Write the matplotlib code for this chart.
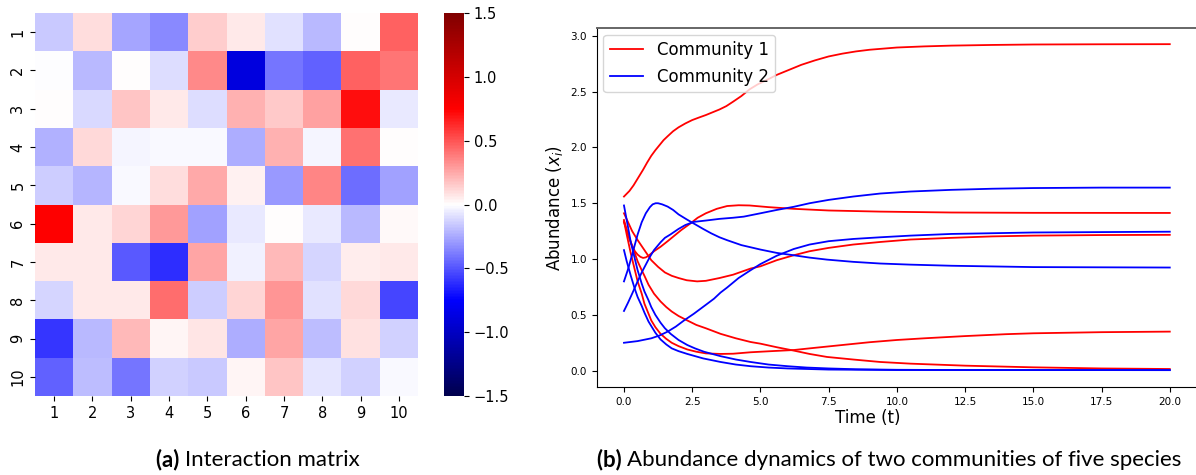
import numpy as np
import matplotlib
matplotlib.use('Agg')
import matplotlib.pyplot as plt

# interaction matrix, rows 1..10 (top to bottom), columns 1..10
A = np.array([
    [-0.16, 0.10, -0.26, -0.35, 0.15, 0.07, -0.09, -0.21, 0.01, 0.46],
    [-0.01, -0.20, 0.01, -0.10, 0.35, -0.88, -0.40, -0.46, 0.46, 0.40],
    [0.01, -0.11, 0.17, 0.06, -0.10, 0.23, 0.16, 0.28, 0.71, -0.07],
    [-0.23, 0.11, -0.035, -0.015, -0.015, -0.24, 0.23, -0.03, 0.42, 0.0],
    [-0.15, -0.22, -0.015, 0.10, 0.25, 0.04, -0.30, 0.36, -0.43, -0.28],
    [0.75, 0.06, 0.12, 0.30, -0.27, -0.07, 0.01, -0.06, -0.21, 0.02],
    [0.06, 0.06, -0.49, -0.61, 0.26, -0.04, 0.20, -0.12, 0.05, 0.06],
    [-0.12, 0.06, 0.07, 0.43, -0.15, 0.12, 0.31, -0.09, 0.11, -0.54],
    [-0.59, -0.21, 0.20, 0.03, 0.08, -0.24, 0.26, -0.19, 0.09, -0.14],
    [-0.46, -0.19, -0.40, -0.14, -0.16, 0.03, 0.17, -0.08, -0.14, -0.02],
])
species = [str(i) for i in range(1, 11)]
cbar_ticks = [-1.5, -1.0, -0.5, 0.0, 0.5, 1.0, 1.5]

# community 1 trajectories
t_r1 = [0, 0.2, 0.35, 0.5, 0.7, 0.85, 1.0, 1.15, 1.3, 1.45, 1.6, 1.8, 2.0, 2.25, 2.5, 2.75, 3.0, 3.25,
        3.5, 3.75, 4.0, 4.3, 4.6, 4.9, 5.2, 5.6, 6.0, 6.5, 7.0, 7.5, 8.0, 8.5, 9.0, 10, 11, 12, 13.5,
        15, 17.5, 20]
r1 = [1.56, 1.61, 1.66, 1.72, 1.80, 1.865, 1.925, 1.975, 2.02, 2.065, 2.10, 2.145, 2.18, 2.215, 2.245,
      2.268, 2.29, 2.315, 2.34, 2.37, 2.41, 2.46, 2.52, 2.565, 2.60, 2.65, 2.69, 2.74, 2.78, 2.815,
      2.84, 2.86, 2.875, 2.895, 2.905, 2.912, 2.918, 2.922, 2.924, 2.925]
t_r2 = [0, 0.1, 0.2, 0.3, 0.4, 0.5, 0.6, 0.7, 0.8, 0.9, 1.0, 1.1, 1.34, 1.6, 1.8, 2.1, 2.44, 2.7, 3.0,
        3.4, 3.78, 4.2, 4.6, 5.3, 6.22, 7.5, 9.39, 12, 15, 20]
r2 = [1.35, 1.26, 1.18, 1.12, 1.07, 1.04, 1.02, 1.01, 1.015, 1.03, 1.05, 1.07, 1.11, 1.16, 1.20, 1.26,
      1.32, 1.37, 1.41, 1.45, 1.475, 1.482, 1.48, 1.465, 1.45, 1.435, 1.425, 1.417, 1.414, 1.413]
t_r3 = [0, 0.15, 0.3, 0.5, 0.75, 1.0, 1.25, 1.5, 1.75, 2.0, 2.3, 2.68, 3.0, 3.5, 4.0, 4.64, 5.0, 5.6,
        6.22, 6.8, 7.5, 8.4, 9.39, 10.5, 12, 13.5, 15, 17.5, 20]
r3 = [1.41, 1.33, 1.25, 1.17, 1.08, 0.99, 0.93, 0.88, 0.85, 0.83, 0.81, 0.80, 0.805, 0.83, 0.86, 0.915,
      0.935, 0.99, 1.034, 1.07, 1.10, 1.13, 1.153, 1.175, 1.19, 1.203, 1.21, 1.215, 1.217]
t_r4 = [0, 0.1, 0.25, 0.4, 0.5, 0.65, 0.75, 0.9, 1.0, 1.15, 1.34, 1.55, 1.75, 2.0, 2.32, 2.65, 3.0,
        3.54, 4.0, 4.64, 5.4, 6.22, 7.0, 8.0, 9.0, 10, 11, 12.5, 14, 15, 17.5, 20]
r4 = [1.34, 1.22, 1.05, 0.90, 0.80, 0.69, 0.60, 0.51, 0.45, 0.39, 0.33, 0.285, 0.25, 0.22, 0.19, 0.17,
      0.155, 0.15, 0.152, 0.165, 0.175, 0.185, 0.205, 0.23, 0.255, 0.275, 0.29, 0.31, 0.327, 0.335,
      0.345, 0.35]
t_r5 = [0, 0.1, 0.25, 0.4, 0.5, 0.65, 0.75, 0.9, 1.1, 1.34, 1.55, 1.75, 2.0, 2.32, 2.65, 3.0, 3.54,
        4.1, 4.64, 5.0, 5.6, 6.22, 6.8, 7.44, 8.4, 9.39, 10.5, 12.5, 15, 17.5, 20]
r5 = [1.33, 1.26, 1.15, 1.05, 0.98, 0.90, 0.85, 0.77, 0.69, 0.62, 0.57, 0.53, 0.49, 0.45, 0.41, 0.38,
      0.33, 0.29, 0.257, 0.242, 0.21, 0.18, 0.15, 0.123, 0.10, 0.078, 0.063, 0.045, 0.03, 0.02, 0.015]

# community 2 trajectories
t_b1 = [0, 0.15, 0.3, 0.5, 0.65, 0.8, 0.95, 1.1, 1.34, 1.5, 1.7, 2.0, 2.25, 2.56, 3.0, 3.5, 4.0, 4.39,
        5.0, 5.6, 6.22, 6.8, 7.5, 8.4, 9.39, 10.5, 12, 13.5, 15, 17.5, 20]
b1 = [0.535, 0.61, 0.69, 0.80, 0.88, 0.95, 1.02, 1.08, 1.15, 1.19, 1.22, 1.27, 1.305, 1.333, 1.345,
      1.36, 1.37, 1.38, 1.41, 1.44, 1.468, 1.50, 1.53, 1.56, 1.587, 1.605, 1.62, 1.63, 1.636, 1.64, 1.64]
t_b2 = [0, 0.15, 0.3, 0.5, 0.65, 0.8, 0.95, 1.05, 1.16, 1.25, 1.4, 1.6, 1.8, 2.0, 2.3, 2.56, 2.9, 3.2,
        3.5, 3.78, 4.3, 5.0, 5.6, 6.22, 6.8, 7.44, 8.4, 9.39, 10.5, 12, 15, 20]
b2 = [0.80, 0.91, 1.04, 1.22, 1.33, 1.41, 1.465, 1.49, 1.50, 1.50, 1.49, 1.47, 1.44, 1.40, 1.355,
      1.318, 1.27, 1.23, 1.195, 1.169, 1.125, 1.085, 1.055, 1.034, 1.013, 0.995, 0.975, 0.96, 0.95,
      0.94, 0.928, 0.924]
t_b3 = [0, 0.5, 1.0, 1.3, 1.6, 1.9, 2.2, 2.56, 3.0, 3.3, 3.54, 3.78, 4.2, 4.64, 5.0, 5.6, 6.22, 6.8,
        7.5, 8.4, 9.39, 10.5, 12, 15, 20]
b3 = [0.25, 0.265, 0.29, 0.315, 0.35, 0.395, 0.45, 0.51, 0.59, 0.645, 0.70, 0.745, 0.83, 0.90, 0.955,
      1.03, 1.09, 1.13, 1.16, 1.18, 1.195, 1.21, 1.225, 1.238, 1.245]
t_b4 = [0, 0.1, 0.25, 0.4, 0.5, 0.65, 0.75, 0.9, 1.0, 1.15, 1.34, 1.5, 1.71, 2.0, 2.32, 2.6, 2.93,
        3.54, 4.1, 4.64, 5.3, 6.0, 6.7, 7.5, 8.5, 10, 12, 20]
b4 = [1.48, 1.35, 1.15, 1.00, 0.90, 0.78, 0.71, 0.63, 0.57, 0.50, 0.43, 0.38, 0.33, 0.275, 0.23, 0.20,
      0.17, 0.13, 0.10, 0.078, 0.055, 0.04, 0.028, 0.02, 0.013, 0.008, 0.006, 0.005]
t_b5 = [0, 0.1, 0.25, 0.4, 0.5, 0.65, 0.75, 0.9, 1.0, 1.15, 1.34, 1.55, 1.75, 2.0, 2.32, 2.9, 3.54,
        4.1, 4.64, 5.3, 6.0, 7.5, 10, 20]
b5 = [1.08, 0.98, 0.85, 0.73, 0.66, 0.58, 0.52, 0.44, 0.40, 0.34, 0.28, 0.235, 0.20, 0.175, 0.15, 0.11,
      0.078, 0.055, 0.04, 0.028, 0.02, 0.01, 0.006, 0.005]

comm1 = [(t_r1, r1), (t_r2, r2), (t_r3, r3), (t_r4, r4), (t_r5, r5)]
comm2 = [(t_b1, b1), (t_b2, b2), (t_b3, b3), (t_b4, b4), (t_b5, b5)]
time_ticks = [0, 2.5, 5, 7.5, 10, 12.5, 15, 17.5, 20]

fig = plt.figure(figsize=(11.96, 4.75), dpi=100)

# (a) heatmap
ax1 = fig.add_axes([0.0293, 0.1663, 0.3202, 0.8063])
mesh = ax1.pcolormesh(A, cmap='seismic', vmin=-1.5, vmax=1.5)
ax1.set_xlim(0, 10)
ax1.set_ylim(10, 0)
ax1.set_xticks(np.arange(10) + 0.5)
ax1.set_yticks(np.arange(10) + 0.5)
ax1.set_xticklabels(species, fontsize=10.5)
ax1.set_yticklabels(species, fontsize=10.5, rotation=90, va='center')
for s in ax1.spines.values():
    s.set_visible(False)

cax = fig.add_axes([0.3712, 0.1663, 0.0167, 0.8063])
cb = fig.colorbar(mesh, cax=cax, ticks=cbar_ticks)
cb.outline.set_linewidth(0)
cb.ax.tick_params(labelsize=10.5)

# (b) dynamics
ax2 = fig.add_axes([0.4989, 0.1853, 0.502, 0.7558])
for i, (tt, yy) in enumerate(comm1):
    ax2.plot(tt, yy, color='red', lw=1.3, label='Community 1' if i == 0 else None)
for i, (tt, yy) in enumerate(comm2):
    ax2.plot(tt, yy, color='blue', lw=1.3, label='Community 2' if i == 0 else None)
ax2.set_xlim(-1, 21)
ax2.set_ylim(-0.146, 3.07)
ax2.set_xticks(time_ticks)
ax2.set_yticks([0, 0.5, 1.0, 1.5, 2.0, 2.5, 3.0])
ax2.tick_params(labelsize=7.5)
ax2.set_xlabel('Time (t)', fontsize=12)
ax2.xaxis.set_label_coords(0.452, -0.06)
ax2.set_ylabel('Abundance ($x_i$)', fontsize=12)
ax2.spines['top'].set_color('#666666')
ax2.spines['top'].set_linewidth(1.4)
ax2.legend(loc='upper left', fontsize=12, borderaxespad=0.4)

# captions: bold label followed by normal text, centred as a whole
renderer = fig.canvas.get_renderer()
def caption(xc, label, rest, y=0.018, size=16):
    t1 = fig.text(0, y, label + ' ', fontsize=size, family='Lato', weight='bold')
    t2 = fig.text(0, y, rest, fontsize=size, family='Lato')
    w1 = t1.get_window_extent(renderer).width / fig.bbox.width
    w2 = t2.get_window_extent(renderer).width / fig.bbox.width
    x0 = xc - (w1 + w2) / 2
    t1.set_x(x0)
    t2.set_x(x0 + w1)

caption(258 / 1196, '(a)', 'Interaction matrix')
caption(889 / 1196, '(b)', 'Abundance dynamics of two communities of five species')

fig.savefig('out.png', dpi=100)
